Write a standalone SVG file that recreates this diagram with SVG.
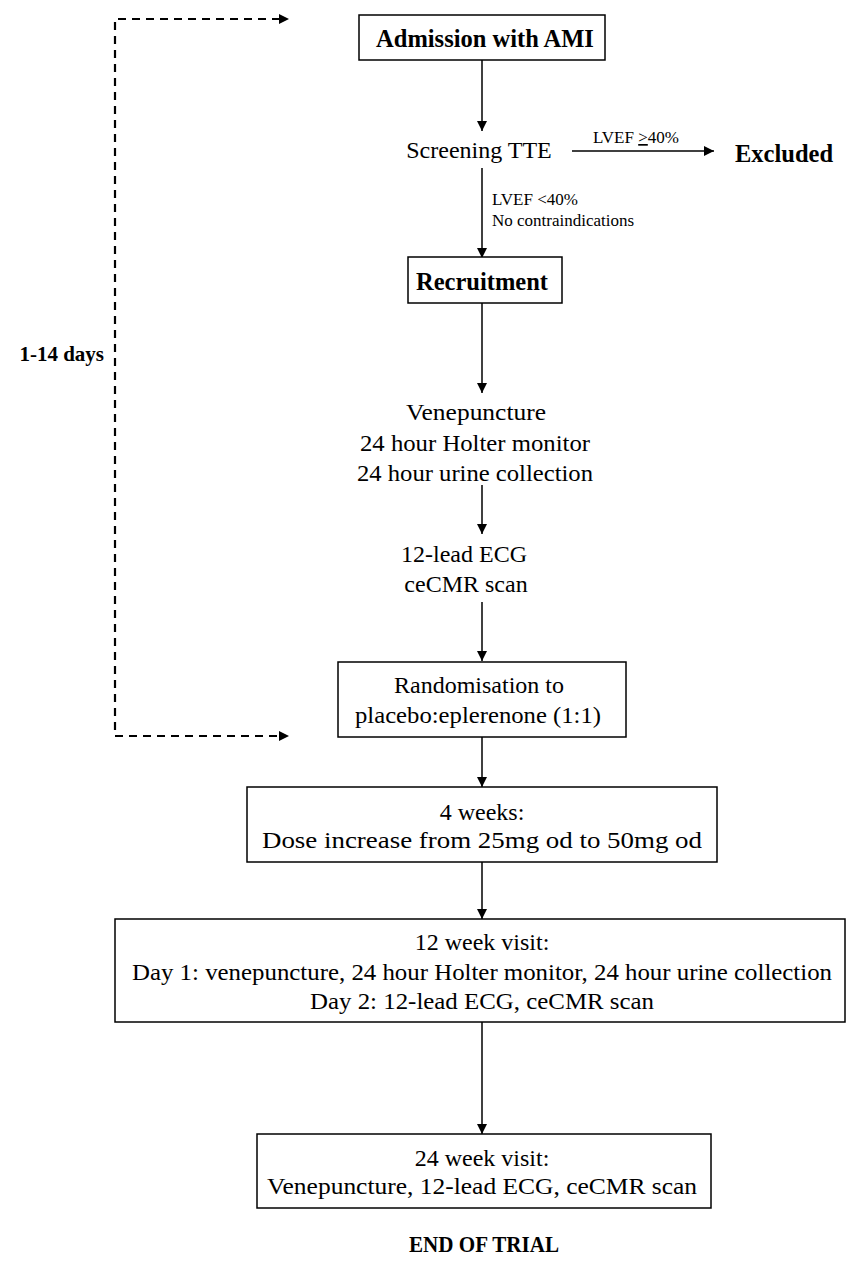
<svg xmlns="http://www.w3.org/2000/svg" width="846" height="1268" viewBox="0 0 846 1268">
<defs>
<marker id="ah" viewBox="0 0 10 10" refX="10" refY="5" markerWidth="10" markerHeight="10" markerUnits="userSpaceOnUse" orient="auto">
<path d="M0,0 L10,5 L0,10 Z" fill="#000"/>
</marker>
<style>
.t{font-family:"Liberation Serif","Times New Roman",serif;font-size:24px;fill:#000;text-anchor:middle}
.b{font-family:"Liberation Serif","Times New Roman",serif;font-size:24.5px;font-weight:bold;fill:#000;text-anchor:middle}
.s{font-family:"Liberation Serif","Times New Roman",serif;font-size:17px;fill:#000}
.box{fill:#fff;stroke:#000;stroke-width:1.5}
.c{fill:none;stroke:#000;stroke-width:1.5;marker-end:url(#ah)}
.d{fill:none;stroke:#000;stroke-width:2.2;stroke-dasharray:8,6}
</style>
</defs>
<rect width="846" height="1268" fill="#fff"/>
<g id="connectors">
<line class="c" x1="482" y1="60" x2="482" y2="131"/>
<line class="c" x1="572" y1="151" x2="714" y2="151"/>
<line class="c" x1="482" y1="168" x2="482" y2="258"/>
<line class="c" x1="482" y1="303" x2="482" y2="393"/>
<line class="c" x1="482" y1="485" x2="482" y2="534"/>
<line class="c" x1="482" y1="602" x2="482" y2="661"/>
<line class="c" x1="482" y1="737" x2="482" y2="787"/>
<line class="c" x1="482" y1="862" x2="482" y2="919"/>
<line class="c" x1="482" y1="1022" x2="482" y2="1134"/>
<path class="d" d="M280,19 H115 V736 H280"/>
<path d="M279,14 L289,19 L279,24 Z" fill="#000"/>
<path d="M279,731 L289,736 L279,741 Z" fill="#000"/>
<text class="s" x="593" y="143">LVEF <tspan text-decoration="underline">&gt;</tspan>40%</text>
<text class="s" x="492" y="205">LVEF &lt;40%</text>
<text class="s" x="492" y="226">No contraindications</text>
<text class="b" x="104" y="361" style="text-anchor:end;font-size:21px">1-14 days</text>
</g>
<g id="admission">
<rect class="box" x="359" y="15" width="246" height="45"/>
<text class="b" x="485" y="47">Admission with AMI</text>
</g>
<g id="screening">
<text class="t" x="479" y="158">Screening TTE</text>
</g>
<g id="excluded">
<text class="b" x="735" y="162" style="text-anchor:start">Excluded</text>
</g>
<g id="recruitment">
<rect class="box" x="408" y="257" width="154" height="46"/>
<text class="b" x="482" y="290">Recruitment</text>
</g>
<g id="baseline-tests">
<text class="t" x="476" y="420" textLength="140" lengthAdjust="spacingAndGlyphs">Venepuncture</text>
<text class="t" x="475" y="451" textLength="230" lengthAdjust="spacingAndGlyphs">24 hour Holter monitor</text>
<text class="t" x="475" y="481" textLength="236" lengthAdjust="spacingAndGlyphs">24 hour urine collection</text>
</g>
<g id="ecg-cmr">
<text class="t" x="464" y="562">12-lead ECG</text>
<text class="t" x="466" y="592">ceCMR scan</text>
</g>
<g id="randomisation">
<rect class="box" x="338" y="662" width="288" height="75"/>
<text class="t" x="479" y="693">Randomisation to</text>
<text class="t" x="478" y="723" textLength="246" lengthAdjust="spacingAndGlyphs">placebo:eplerenone (1:1)</text>
</g>
<g id="four-weeks">
<rect class="box" x="247" y="787" width="470" height="75"/>
<text class="t" x="482" y="820">4 weeks:</text>
<text class="t" x="482" y="848" textLength="440" lengthAdjust="spacingAndGlyphs">Dose increase from 25mg od to 50mg od</text>
</g>
<g id="week12">
<rect class="box" x="115" y="919" width="730" height="103"/>
<text class="t" x="482" y="950">12 week visit:</text>
<text class="t" x="482" y="980" textLength="700" lengthAdjust="spacingAndGlyphs">Day 1: venepuncture, 24 hour Holter monitor, 24 hour urine collection</text>
<text class="t" x="482" y="1009" textLength="344" lengthAdjust="spacingAndGlyphs">Day 2: 12-lead ECG, ceCMR scan</text>
</g>
<g id="week24">
<rect class="box" x="257" y="1134" width="454" height="74"/>
<text class="t" x="482" y="1166">24 week visit:</text>
<text class="t" x="482" y="1194" textLength="430" lengthAdjust="spacingAndGlyphs">Venepuncture, 12-lead ECG, ceCMR scan</text>
</g>
<g id="end">
<text class="b" x="484" y="1252" style="font-size:23px" textLength="150" lengthAdjust="spacingAndGlyphs">END OF TRIAL</text>
</g>
</svg>
